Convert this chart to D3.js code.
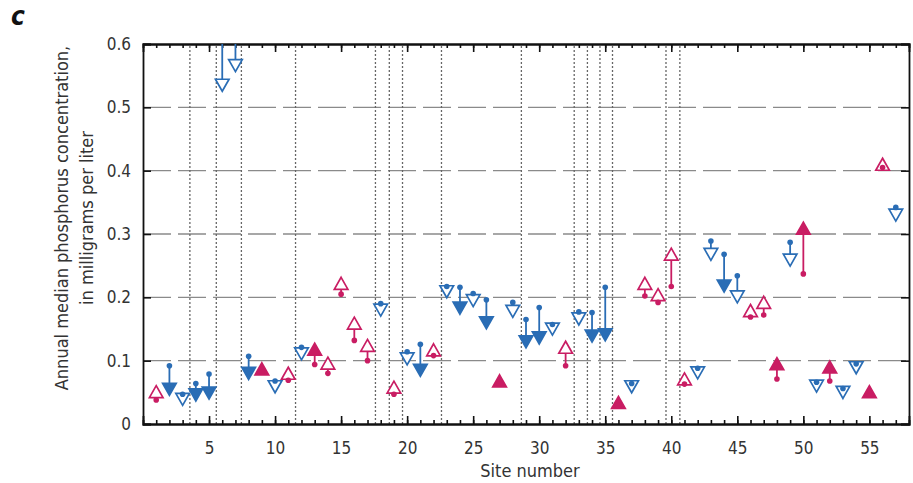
<!DOCTYPE html>
<html>
<head>
<meta charset="utf-8">
<script src="https://cdn.jsdelivr.net/npm/d3@7"></script>
<style>
  body { margin: 0; background: #fff; }
  text { font-family: "Liberation Sans Narrow", "DejaVu Sans Condensed", sans-serif; fill: #333; }
</style>
</head>
<body>
<div id="chart"></div>
<script>
// site numbers
const sites = [1, 2, 3, 4, 5, 6, 7, 8, 9, 10, 11, 12, 13, 14, 15, 16, 17, 18, 19, 20,
  21, 22, 23, 24, 25, 26, 27, 28, 29, 30, 31, 32, 33, 34, 35, 36, 37, 38, 39, 40,
  41, 42, 43, 44, 45, 46, 47, 48, 49, 50, 51, 52, 53, 54, 55, 56, 57];

// first period median (circle)
const startValues = [0.038, 0.092, 0.047, 0.064, 0.079, 0.75, 0.70, 0.107, 0.082, 0.068,
  0.069, 0.121, 0.094, 0.080, 0.205, 0.132, 0.100, 0.190, 0.047, 0.114,
  0.126, 0.108, 0.217, 0.216, 0.206, 0.196, 0.063, 0.192, 0.165, 0.184,
  0.157, 0.092, 0.177, 0.176, 0.216, 0.029, 0.064, 0.202, 0.192, 0.217,
  0.063, 0.088, 0.289, 0.268, 0.234, 0.169, 0.172, 0.071, 0.287, 0.237,
  0.066, 0.068, 0.056, 0.095, 0.046, 0.405, 0.342];

// second period median (triangle)
const endValues = [0.048, 0.058, 0.042, 0.049, 0.052, 0.538, 0.569, 0.083, 0.084, 0.062,
  0.077, 0.114, 0.115, 0.093, 0.219, 0.156, 0.121, 0.183, 0.055, 0.106,
  0.088, 0.114, 0.212, 0.186, 0.198, 0.163, 0.065, 0.181, 0.133, 0.139,
  0.153, 0.118, 0.169, 0.142, 0.144, 0.031, 0.062, 0.219, 0.201, 0.265,
  0.068, 0.084, 0.271, 0.221, 0.204, 0.176, 0.189, 0.092, 0.262, 0.306,
  0.063, 0.087, 0.053, 0.092, 0.048, 0.407, 0.333];

// 1 = filled triangle, 0 = open triangle
const filled = [0, 1, 0, 1, 1, 0, 0, 1, 1, 0, 0, 0, 1, 0, 0, 0, 0, 0, 0, 0,
  1, 0, 0, 1, 0, 1, 1, 0, 1, 1, 0, 0, 0, 1, 1, 1, 0, 0, 0, 0,
  0, 0, 0, 1, 0, 0, 0, 1, 0, 1, 0, 1, 0, 0, 1, 0, 0];

// dotted separators between site groups
const separators = [3.55, 5.55, 7.45, 11.55, 17.6, 18.65, 19.65, 22.6, 28.65,
  32.65, 33.65, 34.6, 35.55, 39.6, 40.65];

const yTicks = [0, 0.1, 0.2, 0.3, 0.4, 0.5, 0.6];
const xTicks = [5, 10, 15, 20, 25, 30, 35, 40, 45, 50, 55];

const blue = "#2a6db5";
const pink = "#c91d63";

const width = 913, height = 483;
const margin = { top: 44, right: 4, bottom: 59, left: 143 };

const svg = d3.select("#chart").append("svg")
  .attr("width", width)
  .attr("height", height);

const x = d3.scaleLinear().domain([0, 58]).range([margin.left, width - margin.right]);
const y = d3.scaleLinear().domain([0, 0.6]).range([height - margin.bottom, margin.top]);

svg.append("clipPath").attr("id", "plot")
  .append("rect")
  .attr("x", x(0)).attr("y", y(0.6))
  .attr("width", x(58) - x(0)).attr("height", y(0) - y(0.6));

// dashed gridlines
svg.append("g")
  .selectAll("line")
  .data(yTicks.filter(d => d > 0 && d < 0.6))
  .join("line")
  .attr("x1", x(0)).attr("x2", x(58))
  .attr("y1", d => y(d)).attr("y2", d => y(d))
  .attr("stroke", "#8a8a8a")
  .attr("stroke-width", 1.4)
  .attr("stroke-dasharray", "28,7");

// dotted separators
svg.append("g")
  .selectAll("line")
  .data(separators)
  .join("line")
  .attr("x1", d => x(d)).attr("x2", d => x(d))
  .attr("y1", y(0)).attr("y2", y(0.6))
  .attr("stroke", "#666")
  .attr("stroke-width", 1.3)
  .attr("stroke-dasharray", "2,2");

// axes, ticks pointing inward
const minor = d3.range(1, 58);
svg.append("g")
  .attr("transform", `translate(0,${y(0)})`)
  .call(d3.axisBottom(x).tickValues(minor).tickSize(-4).tickFormat(""));
svg.append("g")
  .attr("transform", `translate(0,${y(0)})`)
  .call(d3.axisBottom(x).tickValues(xTicks).tickSize(-8).tickPadding(18).tickFormat(d3.format("d")));
svg.append("g")
  .attr("transform", `translate(0,${y(0.6)})`)
  .call(d3.axisTop(x).tickValues(minor).tickSize(-4).tickFormat(""));
svg.append("g")
  .attr("transform", `translate(0,${y(0.6)})`)
  .call(d3.axisTop(x).tickValues(xTicks).tickSize(-8).tickFormat(""));
svg.append("g")
  .attr("transform", `translate(${x(0)},0)`)
  .call(d3.axisLeft(y).tickValues(yTicks).tickSize(-8).tickPadding(12)
    .tickFormat(d => d === 0 ? "0" : d3.format(".1f")(d)));
svg.append("g")
  .attr("transform", `translate(${x(58)},0)`)
  .call(d3.axisRight(y).tickValues(yTicks).tickSize(-8).tickFormat(""));

svg.selectAll(".domain").attr("stroke", "#111").attr("stroke-width", 1.8);
svg.selectAll(".tick line").attr("stroke", "#111").attr("stroke-width", 1.6);
svg.selectAll(".tick text").attr("font-size", 17).style("fill", "#333")
  .style("font-family", "'Liberation Sans Narrow', 'DejaVu Sans Condensed', sans-serif");

// marks
const rows = sites.map((s, i) => ({
  site: s,
  a: startValues[i],
  b: endValues[i],
  up: endValues[i] > startValues[i],
  filled: filled[i] === 1
}));

const tri = (up) => {
  const w = 6.8, h = 12;
  return up
    ? `M0,${-h * 2 / 3}L${w},${h / 3}L${-w},${h / 3}Z`
    : `M0,${h * 2 / 3}L${w},${-h / 3}L${-w},${-h / 3}Z`;
};

const marks = svg.append("g").attr("clip-path", "url(#plot)");

marks.selectAll("line.stem")
  .data(rows)
  .join("line")
  .attr("class", "stem")
  .attr("x1", d => x(d.site)).attr("x2", d => x(d.site))
  .attr("y1", d => y(d.a)).attr("y2", d => y(d.b))
  .attr("stroke", d => d.up ? pink : blue)
  .attr("stroke-width", 1.8);

marks.selectAll("path.tri")
  .data(rows)
  .join("path")
  .attr("class", "tri")
  .attr("transform", d => `translate(${x(d.site)},${y(d.b)})`)
  .attr("d", d => tri(d.up))
  .attr("fill", d => d.filled ? (d.up ? pink : blue) : "#fff")
  .attr("stroke", d => d.up ? pink : blue)
  .attr("stroke-width", 1.7)
  .attr("stroke-linejoin", "miter");

marks.selectAll("circle")
  .data(rows)
  .join("circle")
  .attr("cx", d => x(d.site))
  .attr("cy", d => y(d.a))
  .attr("r", 2.8)
  .attr("fill", d => d.up ? pink : blue);

// titles
svg.append("text")
  .attr("x", (x(0) + x(58)) / 2 + 4)
  .attr("y", 477)
  .attr("text-anchor", "middle")
  .attr("font-size", 18)
  .text("Site number");

const yt = svg.append("text")
  .attr("transform", "translate(68,218) rotate(-90)")
  .attr("text-anchor", "middle")
  .attr("font-size", 18);
yt.append("tspan").attr("x", 0).attr("dy", 0).text("Annual median phosphorus concentration,");
yt.append("tspan").attr("x", 0).attr("dy", 25).text("in milligrams per liter");

svg.append("text")
  .attr("x", 11)
  .attr("y", 25)
  .attr("font-size", 26)
  .attr("font-weight", "bold")
  .attr("font-style", "italic")
  .style("fill", "#111")
  .text("c");
</script>
</body>
</html>
